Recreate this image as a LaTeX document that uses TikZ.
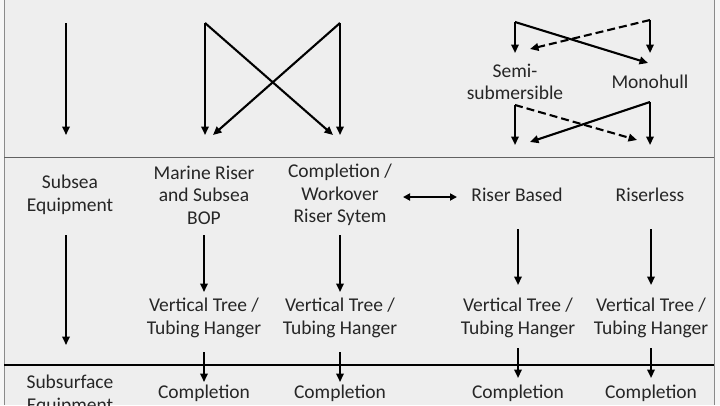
\documentclass[tikz,border=0pt]{standalone}
\usepackage{fontspec}
\setmainfont{Carlito}
\usetikzlibrary{arrows.meta}
\definecolor{bg}{HTML}{EEEEEE}
\definecolor{edge}{HTML}{F6F6F6}
\definecolor{txt}{HTML}{262626}
\definecolor{frame}{HTML}{8A8A8A}
\tikzset{
  lbl/.style={align=center, text=txt, font=\fontsize{19.5}{22.5}\selectfont, inner sep=0pt},
  arr/.style={line width=2.1pt, -{Triangle[length=8.5pt,width=7.5pt]}},
  darr/.style={line width=2.1pt, {Triangle[length=7pt,width=7pt]}-{Triangle[length=7pt,width=7pt]}},
  dsh/.style={arr, dash pattern=on 8pt off 4pt}
}
\begin{document}
\begin{tikzpicture}[x=1pt,y=-1pt]
\useasboundingbox (0,0) rectangle (720,405);
\clip (0,0) rectangle (720,405);
\fill[edge] (0,0) rectangle (720,405);
\fill[bg] (4,0) rectangle (714,405);
\draw[frame, line width=1pt] (4,0) -- (4,405);
\draw[frame, line width=1pt] (714,0) -- (714,405);
\draw[frame!70!black, line width=1pt] (4,157) -- (714,157);
\draw[black, line width=2.6pt] (4,365) -- (714,365);

% text nodes
\node[lbl] (sub) at (70,195) {Subsea\\Equipment};
\node[lbl] (mr) at (204,195) {Marine Riser\\and Subsea\\BOP};
\node[lbl] (cw) at (340,195) {Completion /\\Workover\\Riser Sytem};
\node[lbl] (rb) at (517,195) {Riser Based};
\node[lbl] (rl) at (650,195) {Riserless};
\node[lbl] (semi) at (515,82) {Semi-\\submersible};
\node[lbl] (mono) at (650,82) {Monohull};
\node[lbl] (vt1) at (204,318) {Vertical Tree /\\Tubing Hanger};
\node[lbl] (vt2) at (340,318) {Vertical Tree /\\Tubing Hanger};
\node[lbl] (vt3) at (518,318) {Vertical Tree /\\Tubing Hanger};
\node[lbl] (vt4) at (651,318) {Vertical Tree /\\Tubing Hanger};
\node[lbl, anchor=north] (subs) at (70,375) {Subsurface\\Equipment};
\node[lbl, anchor=north] (co1) at (204,385) {Completion};
\node[lbl, anchor=north] (co2) at (340,385) {Completion};
\node[lbl, anchor=north] (co3) at (518,385) {Completion};
\node[lbl, anchor=north] (co4) at (651,385) {Completion};

% coordinates
\coordinate (t1) at (66,23);   \coordinate (b1) at (66,135);
\coordinate (t2) at (205,23);  \coordinate (b2) at (205,135);
\coordinate (t3) at (340,23);  \coordinate (b3) at (340,135);
\coordinate (x2) at (333,135); \coordinate (x3) at (213,135);
\coordinate (s1) at (515,22);  \coordinate (s1d) at (515,53); \coordinate (s1x) at (648,63);
\coordinate (m1) at (650,20);  \coordinate (m1d) at (650,53); \coordinate (m1x) at (530,49);
\coordinate (s2) at (515,105); \coordinate (s2d) at (515,145); \coordinate (s2x) at (637,140);
\coordinate (m2) at (650,102); \coordinate (m2d) at (650,145); \coordinate (m2x) at (530,142);
\coordinate (sa) at (66,235);  \coordinate (sb) at (66,345);
\coordinate (ma) at (204,235); \coordinate (mb) at (204,292);
\coordinate (ca) at (340,235); \coordinate (cb) at (340,292);
\coordinate (ra) at (518,229); \coordinate (rbb) at (518,285);
\coordinate (la) at (651,229); \coordinate (lb) at (651,285);
\coordinate (da) at (403,197); \coordinate (db) at (457,197);
\coordinate (v1a) at (204,352); \coordinate (v1b) at (204,382);
\coordinate (v2a) at (340,352); \coordinate (v2b) at (340,382);
\coordinate (v3a) at (518,348); \coordinate (v3b) at (518,378);
\coordinate (v4a) at (651,348); \coordinate (v4b) at (651,378);

% top section
\draw[arr] (t1) -- (b1);
\draw[arr] (t2) -- (b2);
\draw[arr] (t3) -- (b3);
\draw[arr] (t2) -- (x2);
\draw[arr] (t3) -- (x3);
\draw[arr] (s1) -- (s1d);
\draw[arr] (s1) -- (s1x);
\draw[arr] (m1) -- (m1d);
\draw[dsh] (m1) -- (m1x);
\draw[arr] (s2) -- (s2d);
\draw[dsh] (s2) -- (s2x);
\draw[arr] (m2) -- (m2d);
\draw[arr] (m2) -- (m2x);

% middle section
\draw[arr] (sa) -- (sb);
\draw[arr] (ma) -- (mb);
\draw[arr] (ca) -- (cb);
\draw[arr] (ra) -- (rbb);
\draw[arr] (la) -- (lb);
\draw[darr] (da) -- (db);

% to completion
\draw[arr] (v1a) -- (v1b);
\draw[arr] (v2a) -- (v2b);
\draw[arr] (v3a) -- (v3b);
\draw[arr] (v4a) -- (v4b);
\end{tikzpicture}
\end{document}
